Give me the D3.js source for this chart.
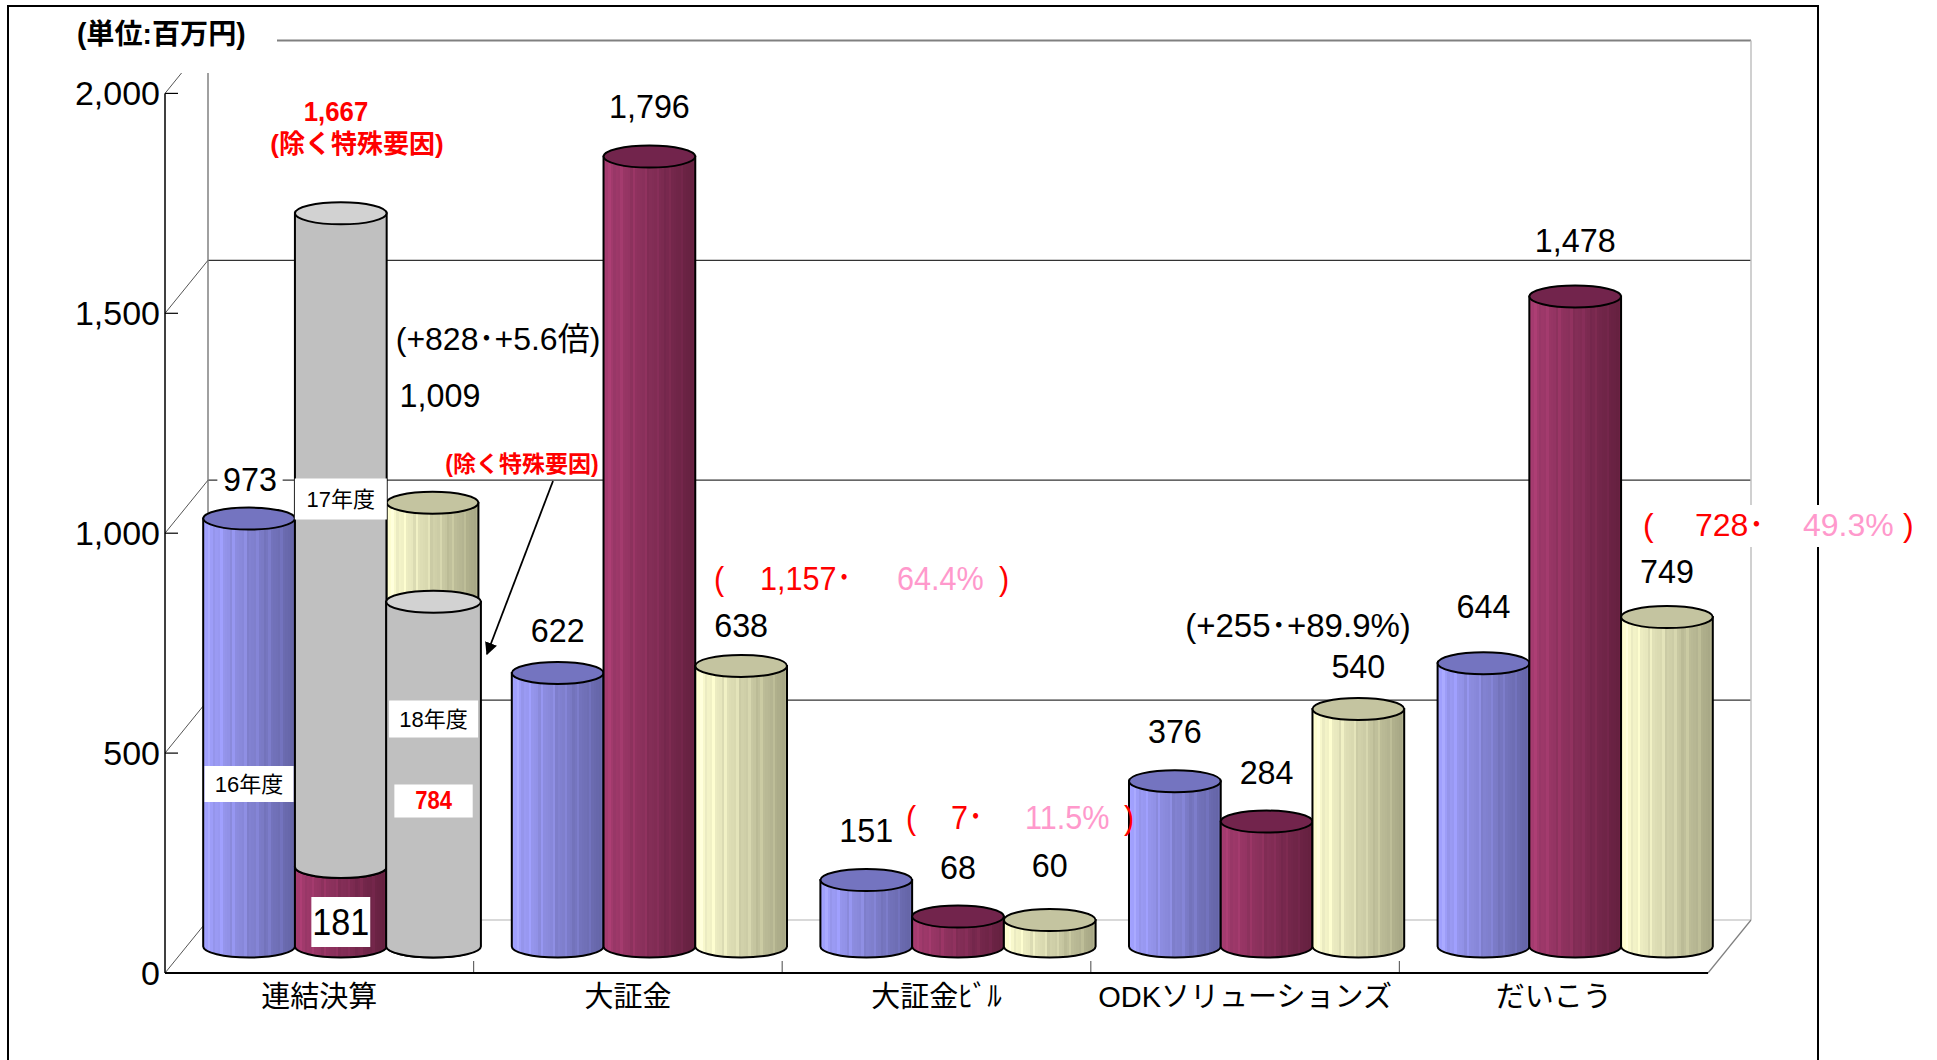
<!DOCTYPE html>
<html>
<head>
<meta charset="utf-8">
<script src="https://cdn.jsdelivr.net/npm/d3@7"></script>
<style>
	body { margin: 0; background: #fff; }
	text { font-family: "Liberation Sans", Arial, "Noto Sans CJK JP", sans-serif; }
</style>
</head>
<body>
<svg id="chart" width="1937" height="1060"></svg>
<script>
// DATA
// ====
const CATEGORIES = ["連結決算", "大証金", "大証金ﾋﾞﾙ", "ODKソリューションズ", "だいこう"];
const SERIES = ["16年度", "17年度", "18年度"];
const VALUES_16 = [973, 622, 151, 376, 644];
const VALUES_17 = [181, 1796, 68, 284, 1478];
const VALUES_18 = [1009, 638, 60, 540, 749];
// 連結決算: figures excluding special factors (gray cylinders)
const EXCL_17 = 1667;
const EXCL_18 = 784;
const Y_TICKS = [0, 500, 1000, 1500, 2000];
const CHANGE_DIFF = ["+828", "1,157", "7", "+255", "728"];
const CHANGE_RATE = ["+5.6倍", "64.4%", "11.5%", "+89.9%", "49.3%"];

const SERIES_VALUES = [VALUES_16, VALUES_17, VALUES_18];

// LAYOUT
// ======
const svg = d3.select("#chart");
const FRONT_LEFT = 165;
const FRONT_BOTTOM = 973;
const CAT_WIDTH = 308.6;
const DEPTH = { dx: 43, dy: -53 };
const RY = 11;
const CLIP_TOP = 73;

const x = d3.scaleBand()
	.domain(CATEGORIES)
	.range([FRONT_LEFT, FRONT_LEFT + CAT_WIDTH * CATEGORIES.length])
	.padding(0);

const xs = d3.scaleBand()
	.domain(SERIES)
	.range([0, x.bandwidth()])
	.paddingInner(0)
	.paddingOuter(0.182);

const y = d3.scaleLinear()
	.domain([0, 2000])
	.range([FRONT_BOTTOM, FRONT_BOTTOM - 879.6]);

const yMid = v => y(v) + DEPTH.dy / 2;
const yBack = v => y(v) + DEPTH.dy;
const xRight = x.range()[1];
const backLeft = FRONT_LEFT + DEPTH.dx;
const backRight = xRight + DEPTH.dx;

const cylCenter = (cat, s) => x(cat) + DEPTH.dx / 2 + xs(s) + xs.bandwidth() / 2;
const RX = xs.bandwidth() / 2;

// gradients
const defs = svg.append("defs");
function stripedGradient(id, left, right) {
	const grad = defs.append("linearGradient").attr("id", id)
		.attr("x1", 0).attr("x2", 1).attr("y1", 0).attr("y2", 0);
	const n = 38;
	const interp = d3.interpolateRgb(left, right);
	for (let i = 0; i < n; i++) {
		let c = d3.color(interp(i / (n - 1)));
		if (i % 5 === 2) c = c.brighter(0.18);
		else if (i % 7 === 4) c = c.darker(0.12);
		grad.append("stop").attr("offset", i / n).attr("stop-color", c);
		grad.append("stop").attr("offset", (i + 1) / n).attr("stop-color", c);
	}
}
stripedGradient("g16", "#a2a2ff", "#6464a6");
stripedGradient("g17", "#a63c70", "#64203f");
stripedGradient("g18", "#ffffd2", "#a6a684");

const STYLE = {
	"16年度": { body: "url(#g16)", top: "#7474c0" },
	"17年度": { body: "url(#g17)", top: "#72244c" },
	"18年度": { body: "url(#g18)", top: "#c4c4a0" },
	gray: { body: "#c0c0c0", top: "#d2d2d2" },
};

defs.append("marker")
	.attr("id", "arrow")
	.attr("viewBox", "0 0 10 10")
	.attr("refX", 9).attr("refY", 5)
	.attr("markerWidth", 7).attr("markerHeight", 7)
	.attr("markerUnits", "strokeWidth")
	.attr("orient", "auto")
	.append("path")
	.attr("d", "M0,0 L10,5 L0,10 Z")
	.attr("fill", "#000");

// FRAME AND WALLS
// ===============
svg.append("rect")
	.attr("x", 8).attr("y", 6)
	.attr("width", 1810).attr("height", 1100)
	.attr("fill", "#fff")
	.attr("stroke", "#000").attr("stroke-width", 2);

const walls = svg.append("g");

// back wall grid lines
walls.selectAll(".grid")
	.data(Y_TICKS.filter(d => d > 0 && d < 2000))
	.join("line")
	.attr("x1", backLeft).attr("x2", backRight)
	.attr("y1", d => yBack(d)).attr("y2", d => yBack(d))
	.attr("stroke", "#333").attr("stroke-width", 1.2);

// back floor line
walls.append("line")
	.attr("x1", backLeft).attr("x2", backRight)
	.attr("y1", yBack(0)).attr("y2", yBack(0))
	.attr("stroke", "#b4b4b4").attr("stroke-width", 1.2);

// top grid line (2000) partly hidden by the title
walls.append("line")
	.attr("x1", 277).attr("x2", backRight)
	.attr("y1", yBack(2000)).attr("y2", yBack(2000))
	.attr("stroke", "#808080").attr("stroke-width", 2);

// back wall edges
walls.append("line")
	.attr("x1", backRight).attr("x2", backRight)
	.attr("y1", yBack(2000)).attr("y2", yBack(0))
	.attr("stroke", "#c0c0c0").attr("stroke-width", 1.5);
walls.append("line")
	.attr("x1", backLeft).attr("x2", backLeft)
	.attr("y1", CLIP_TOP).attr("y2", yBack(0))
	.attr("stroke", "#808080").attr("stroke-width", 1.5);

// side wall diagonals
walls.selectAll(".diag")
	.data(Y_TICKS)
	.join("line")
	.attr("x1", FRONT_LEFT)
	.attr("y1", d => y(d))
	.attr("x2", d => {
		const yEnd = Math.max(yBack(d), CLIP_TOP);
		return FRONT_LEFT + DEPTH.dx * (y(d) - yEnd) / -DEPTH.dy;
	})
	.attr("y2", d => Math.max(yBack(d), CLIP_TOP))
	.attr("stroke", "#555").attr("stroke-width", 1);

// floor right edge
walls.append("line")
	.attr("x1", xRight).attr("y1", y(0))
	.attr("x2", backRight).attr("y2", yBack(0))
	.attr("stroke", "#808080").attr("stroke-width", 1.2);

// category ticks on the floor
walls.selectAll(".ctick")
	.data(CATEGORIES.slice(1))
	.join("line")
	.attr("x1", d => x(d)).attr("x2", d => x(d))
	.attr("y1", y(0)).attr("y2", y(0) - 12)
	.attr("stroke", "#666").attr("stroke-width", 1.2);

// CYLINDERS
// =========
const bars = svg.append("g");

function cylinder(cx, v0, v1, rx, style) {
	const yb = yMid(v0);
	const yt = yMid(v1);
	bars.append("path")
		.attr("d", `M${cx - rx},${yt} L${cx - rx},${yb} A${rx},${RY} 0 0 0 ${cx + rx},${yb} L${cx + rx},${yt} Z`)
		.attr("fill", style.body)
		.attr("stroke", "#000").attr("stroke-width", 2);
	bars.append("ellipse")
		.attr("cx", cx).attr("cy", yt)
		.attr("rx", rx).attr("ry", RY)
		.attr("fill", style.top)
		.attr("stroke", "#000").attr("stroke-width", 2);
}

CATEGORIES.forEach((cat, ci) => {
	SERIES.forEach((s, si) => {
		const v = SERIES_VALUES[si][ci];
		const cx = cylCenter(cat, s);
		cylinder(cx, 0, v, RX, STYLE[s]);
		if (ci === 0 && si === 1) {
			cylinder(cx, v, EXCL_17, RX, STYLE.gray);
		}
		if (ci === 0 && si === 2) {
			cylinder(cx + 1, 0, EXCL_18, RX + 1.5, STYLE.gray);
		}
	});
});

// AXES
// ====
const axis = svg.append("g");
axis.append("line")
	.attr("x1", FRONT_LEFT).attr("x2", FRONT_LEFT)
	.attr("y1", y(2000)).attr("y2", y(0))
	.attr("stroke", "#000").attr("stroke-width", 1.5);
axis.append("line")
	.attr("x1", FRONT_LEFT).attr("x2", xRight)
	.attr("y1", y(0)).attr("y2", y(0))
	.attr("stroke", "#000").attr("stroke-width", 2);
axis.selectAll(".ytick")
	.data(Y_TICKS)
	.join("line")
	.attr("x1", FRONT_LEFT).attr("x2", FRONT_LEFT + 13)
	.attr("y1", d => y(d)).attr("y2", d => y(d))
	.attr("stroke", "#000").attr("stroke-width", 1.2);
axis.selectAll(".ylabel")
	.data(Y_TICKS)
	.join("text")
	.attr("x", 160)
	.attr("y", d => y(d))
	.attr("text-anchor", "end")
	.attr("dominant-baseline", "central")
	.attr("font-size", 34)
	.text(d3.format(","));

axis.selectAll(".xlabel")
	.data(CATEGORIES)
	.join("text")
	.attr("x", d => x(d) + x.bandwidth() / 2)
	.attr("y", 997)
	.attr("text-anchor", "middle")
	.attr("dominant-baseline", "central")
	.attr("font-family", "'Noto Sans CJK JP', sans-serif")
	.attr("font-size", 29)
	.text(d => d);

// LABELS
// ======
const labels = svg.append("g");

function label(parts, px, py, o = {}) {
	const g = labels.append("g")
		.attr("transform", `translate(${px},${py}) scale(${o.sx || 1},1)`);
	const bg = o.bg ? g.append("rect").attr("fill", "#fff") : null;
	const t = g.append("text")
		.attr("text-anchor", o.anchor || "middle")
		.attr("dominant-baseline", "central")
		.attr("font-size", o.size || 34)
		.attr("font-weight", o.bold ? "bold" : null)
		.attr("font-family", o.cjk ? "'Noto Sans CJK JP', sans-serif" : null);
	if (typeof parts === "string") parts = [[parts, o.color || "#000"]];
	parts.forEach(([str, col]) => t.append("tspan").attr("fill", col).text(str));
	if (bg) {
		const bb = t.node().getBBox();
		const p = o.pad || [4, 2];
		bg.attr("x", bb.x - p[0]).attr("y", bb.y - p[1])
			.attr("width", bb.width + 2 * p[0]).attr("height", bb.height + 2 * p[1]);
		if (o.box) bg.attr("x", -o.box[0] / 2).attr("y", -o.box[1] / 2)
			.attr("width", o.box[0]).attr("height", o.box[1]);
	}
	return g;
}

const fmt = d3.format(",");
// offsets of the value labels above each cylinder top
const LABEL_DY = [
	[null, null, null],
	[-43, -51, -41],
	[-50, -50, -55],
	[-50, -50, -43],
	[-58, -57, -46],
];
CATEGORIES.forEach((cat, ci) => {
	SERIES.forEach((s, si) => {
		const dy = LABEL_DY[ci][si];
		if (dy === null) return;
		const v = SERIES_VALUES[si][ci];
		label(fmt(v), cylCenter(cat, s), yMid(v) + dy, { sx: 0.95, bg: ci === 4 && si === 1, pad: [12, 0] });
	});
});

// 連結決算 labels
const c0 = CATEGORIES[0];
label(fmt(VALUES_16[0]), 250, 479, { sx: 0.95, bg: true, pad: [6, 0] });
label(fmt(VALUES_18[0]), 440, 395, { sx: 0.95 });
label(fmt(VALUES_17[0]), cylCenter(c0, SERIES[1]), 922, { sx: 0.95, size: 36, bg: true, box: [62, 50] });
label(SERIES[0], cylCenter(c0, SERIES[0]), 784, { cjk: true, size: 22, bg: true, box: [89, 36] });
label(SERIES[1], cylCenter(c0, SERIES[1]), 499, { cjk: true, size: 22, bg: true, box: [92, 41] });
label(SERIES[2], cylCenter(c0, SERIES[2]) + 1, 719, { cjk: true, size: 22, bg: true, box: [89, 37] });
label(fmt(EXCL_18), cylCenter(c0, SERIES[2]) + 1, 801, { bold: true, size: 25, sx: 0.88, color: "#ff0000", bg: true, box: [89, 33] });
label(fmt(EXCL_17), 336, 112, { bold: true, size: 28, sx: 0.92, color: "#ff0000" });
label("(除く特殊要因)", 357, 144, { bold: true, size: 26, cjk: true, color: "#ff0000" });
label("(除く特殊要因)", 522, 464, { bold: true, size: 23, cjk: true, color: "#ff0000" });

svg.append("line")
	.attr("x1", 553).attr("y1", 481)
	.attr("x2", 487).attr("y2", 654)
	.attr("stroke", "#000").attr("stroke-width", 1.8)
	.attr("marker-end", "url(#arrow)");

// title
label("(単位:百万円)", 77, 34, { anchor: "start", bold: true, size: 29, cjk: true, sx: 0.97 });

// change notes
label(`(${CHANGE_DIFF[0]}･${CHANGE_RATE[0]})`, 498, 339, { size: 32 });
label(`(${CHANGE_DIFF[3]}･${CHANGE_RATE[3]})`, 1298, 625, { size: 33 });

function redNote(ci, pos, cy, size, sx, bg) {
	const g = labels.append("g");
	if (bg) g.append("rect").attr("x", bg[0]).attr("y", bg[1]).attr("width", bg[2]).attr("height", bg[3]).attr("fill", "#fff");
	const parts = [
		["(", "#ff0000", pos[0]],
		[CHANGE_DIFF[ci] + "･", "#ff0000", pos[1]],
		[CHANGE_RATE[ci], "#ff99cc", pos[2]],
		[")", "#ff0000", pos[3]],
	];
	parts.forEach(([str, col, px]) => {
		g.append("text")
			.attr("transform", `translate(${px},${cy}) scale(${sx},1)`)
			.attr("dominant-baseline", "central")
			.attr("font-size", size)
			.attr("fill", col)
			.text(str);
	});
}
redNote(1, [714, 760, 897, 999], 578, 34, 0.9);
redNote(2, [906, 951, 1025, 1124], 817, 34, 0.9);
redNote(4, [1643, 1695, 1803, 1903], 525, 32, 1, [1636, 505, 290, 42]);
</script>
</body>
</html>
